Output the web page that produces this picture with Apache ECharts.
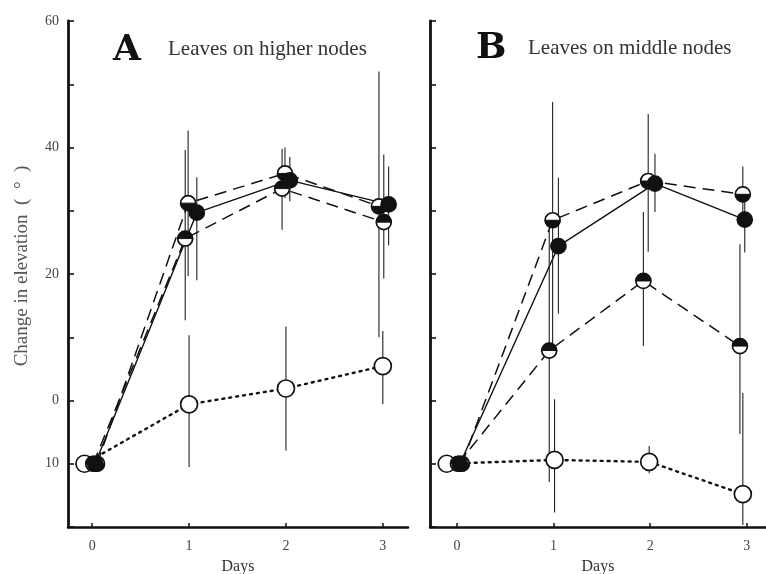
<!DOCTYPE html>
<html>
<head>
<meta charset="utf-8">
<script src="https://cdn.jsdelivr.net/npm/echarts@6/dist/echarts.min.js"></script>
<style>html,body{margin:0;padding:0;background:#fff}#c{width:766px;height:574px}</style>
</head>
<body>
<div id="c"></div>
<script>
// ---- Data ----
const xTickValues = [0, 1, 2, 3];
const yLabelValues = [60, 40, 20, 0, -10];
const yLabelTexts = ['60', '40', '20', '0', '10'];

// Panel A: Leaves on higher nodes
const A_filled_x  = [0.03, 1.08, 2.04, 3.06];
const A_filled_y  = [-10, 29.7, 34.8, 31.0];
const A_filled_lo = [null, 19.0, 31.5, 24.5];
const A_filled_hi = [null, 35.3, 38.5, 37.0];

const A_lowHalf_x  = [0.05, 0.99, 1.99, 2.96];   // top white, bottom black
const A_lowHalf_y  = [-10, 31.2, 35.9, 30.7];
const A_lowHalf_lo = [null, 19.7, 32.0, 10.0];
const A_lowHalf_hi = [null, 42.7, 40.0, 52.0];

const A_topHalf_x  = [0.01, 0.96, 1.96, 3.01];   // top black, bottom white
const A_topHalf_y  = [-10, 25.6, 33.5, 28.2];
const A_topHalf_lo = [null, 12.7, 27.0, 19.3];
const A_topHalf_hi = [null, 39.6, 39.8, 38.9];

const A_open_x  = [-0.08, 1.0, 2.0, 3.0];
const A_open_y  = [-10, -0.6, 1.9, 5.45];
const A_open_lo = [null, -10.5, -7.9, -0.55];
const A_open_hi = [null, 10.3, 11.7, 11.0];

// Panel B: Leaves on middle nodes
const B_filled_x  = [0.03, 1.05, 2.05, 2.98];
const B_filled_y  = [-10, 24.4, 34.3, 28.6];
const B_filled_lo = [null, 13.7, 29.8, 23.4];
const B_filled_hi = [null, 35.2, 39.0, 33.7];

const B_lowHalf_x  = [0.05, 0.99, 1.98, 2.96];
const B_lowHalf_y  = [-10, 28.5, 34.7, 32.6];
const B_lowHalf_lo = [null, 8.6, 23.5, 28.0];
const B_lowHalf_hi = [null, 47.2, 45.3, 37.0];

const B_topHalf_x  = [0.01, 0.955, 1.93, 2.93];
const B_topHalf_y  = [-10, 7.9, 18.9, 8.6];
const B_topHalf_lo = [null, -12.9, 8.6, -5.3];
const B_topHalf_hi = [null, 27.0, 29.8, 24.7];

const B_open_x  = [-0.107, 1.01, 1.99, 2.96];
const B_open_y  = [-10, -9.4, -9.7, -14.8];
const B_open_lo = [null, -17.7, -11.5, -19.7];
const B_open_hi = [null, 0.2, -7.2, 1.2];

// ---- Rendering ----
const LINE_STYLES = {
  filled:  { type: 'solid', width: 1.4 },
  lowHalf: { type: [12, 7], width: 1.5 },
  topHalf: { type: [12, 7], width: 1.5 },
  open:    { type: [2, 5], width: 2.4, cap: 'round' }
};

function markerRender(kind) {
  return function (params, api) {
    const p = api.coord([api.value(0), api.value(1)]);
    const r = kind === 'open' ? 8.5 : 7.5;
    const children = [{
      type: 'circle', shape: { cx: p[0], cy: p[1], r: r },
      style: { fill: kind === 'filled' ? '#111' : '#fff', stroke: '#111', lineWidth: 1.7 }
    }];
    if (kind === 'lowHalf' || kind === 'topHalf') {
      const s = kind === 'lowHalf' ? 0 : Math.PI;
      children.push({
        type: 'sector',
        shape: { cx: p[0], cy: p[1], r0: 0, r: r, startAngle: s, endAngle: s + Math.PI, clockwise: true },
        style: { fill: '#111', stroke: '#111', lineWidth: 1 }
      });
    }
    return { type: 'group', children: children };
  };
}

function errRender(params, api) {
  const x = api.value(0);
  const a = api.coord([x, api.value(1)]);
  const b = api.coord([x, api.value(2)]);
  return {
    type: 'line', shape: { x1: a[0], y1: a[1], x2: b[0], y2: b[1] },
    style: { stroke: '#222', lineWidth: 1.1 }
  };
}

const series = [];
function addSet(panel, kind, xs, ys, lo, hi) {
  const pts = xs.map((x, i) => [x, ys[i]]);
  series.push({
    type: 'line', xAxisIndex: panel, yAxisIndex: panel, data: pts,
    showSymbol: false, symbol: 'none', silent: true, z: 2,
    lineStyle: Object.assign({ color: '#111' }, LINE_STYLES[kind])
  });
  const eb = [];
  xs.forEach((x, i) => { if (lo[i] != null) eb.push([x, lo[i], hi[i]]); });
  series.push({
    type: 'custom', xAxisIndex: panel, yAxisIndex: panel, data: eb,
    renderItem: errRender, silent: true, z: 3
  });
  series.push({
    type: 'custom', xAxisIndex: panel, yAxisIndex: panel, data: pts,
    renderItem: markerRender(kind), silent: true, z: 4
  });
}

addSet(0, 'open', A_open_x, A_open_y, A_open_lo, A_open_hi);
addSet(0, 'topHalf', A_topHalf_x, A_topHalf_y, A_topHalf_lo, A_topHalf_hi);
addSet(0, 'lowHalf', A_lowHalf_x, A_lowHalf_y, A_lowHalf_lo, A_lowHalf_hi);
addSet(0, 'filled', A_filled_x, A_filled_y, A_filled_lo, A_filled_hi);

addSet(1, 'open', B_open_x, B_open_y, B_open_lo, B_open_hi);
addSet(1, 'topHalf', B_topHalf_x, B_topHalf_y, B_topHalf_lo, B_topHalf_hi);
addSet(1, 'lowHalf', B_lowHalf_x, B_lowHalf_y, B_lowHalf_lo, B_lowHalf_hi);
addSet(1, 'filled', B_filled_x, B_filled_y, B_filled_lo, B_filled_hi);

const serif = '"Liberation Serif", "DejaVu Serif", serif';

function xAxis(idx, min, max) {
  return {
    type: 'value', gridIndex: idx, min: min, max: max,
    axisLine: { show: true, onZero: false, lineStyle: { color: '#111', width: 2.5 } },
    axisTick: { show: true, inside: true, length: 4, customValues: xTickValues, lineStyle: { color: '#111', width: 1.5 } },
    axisLabel: { show: true, customValues: xTickValues, margin: 12, color: '#444', fontFamily: serif, fontSize: 14 },
    splitLine: { show: false },
    name: 'Days', nameLocation: 'middle', nameGap: 32,
    nameTextStyle: { color: '#333', fontFamily: serif, fontSize: 16 }
  };
}
function yAxis(idx, showLabels) {
  return {
    type: 'value', gridIndex: idx, min: -20, max: 60, interval: 10,
    axisLine: { show: true, onZero: false, lineStyle: { color: '#111', width: 2.8 } },
    axisTick: { show: true, inside: true, length: 6, lineStyle: { color: '#111', width: 1.6 } },
    axisLabel: {
      show: showLabels, margin: 9, color: '#444', fontFamily: serif, fontSize: 14,
      formatter: function (v) { const i = yLabelValues.indexOf(v); return i >= 0 ? yLabelTexts[i] : ''; }
    },
    splitLine: { show: false }
  };
}

const option = {
  backgroundColor: '#fff',
  animation: false,
  grid: [
    { left: 68, top: 21, width: 340, height: 506, outerBoundsMode: 'none', containLabel: false },
    { left: 430, top: 21, width: 336, height: 506, outerBoundsMode: 'none', containLabel: false }
  ],
  xAxis: [xAxis(0, -0.25, 3.26), xAxis(1, -0.28, 3.2)],
  yAxis: [yAxis(0, true), yAxis(1, false)],
  graphic: [
    { type: 'text', left: 113, top: 33, style: { text: 'A', font: '900 36px "DejaVu Serif", serif', fill: '#111' } },
    { type: 'text', left: 168, top: 39, style: { text: 'Leaves on higher nodes', font: '21px ' + serif, fill: '#333' } },
    { type: 'text', left: 476, top: 31, style: { text: 'B', font: '900 36px "DejaVu Serif", serif', fill: '#111' } },
    { type: 'text', left: 528, top: 38, style: { text: 'Leaves on middle nodes', font: '21px ' + serif, fill: '#333' } },
    { type: 'text', x: 22, y: 266, rotation: Math.PI / 2,
      style: { text: 'Change in elevation  (  °  )', font: '19px ' + serif, fill: '#555', align: 'center', verticalAlign: 'middle' } }
  ],
  series: series
};

const chart = echarts.init(document.getElementById('c'), null, { renderer: 'canvas' });
chart.setOption(option);
</script>
</body>
</html>
